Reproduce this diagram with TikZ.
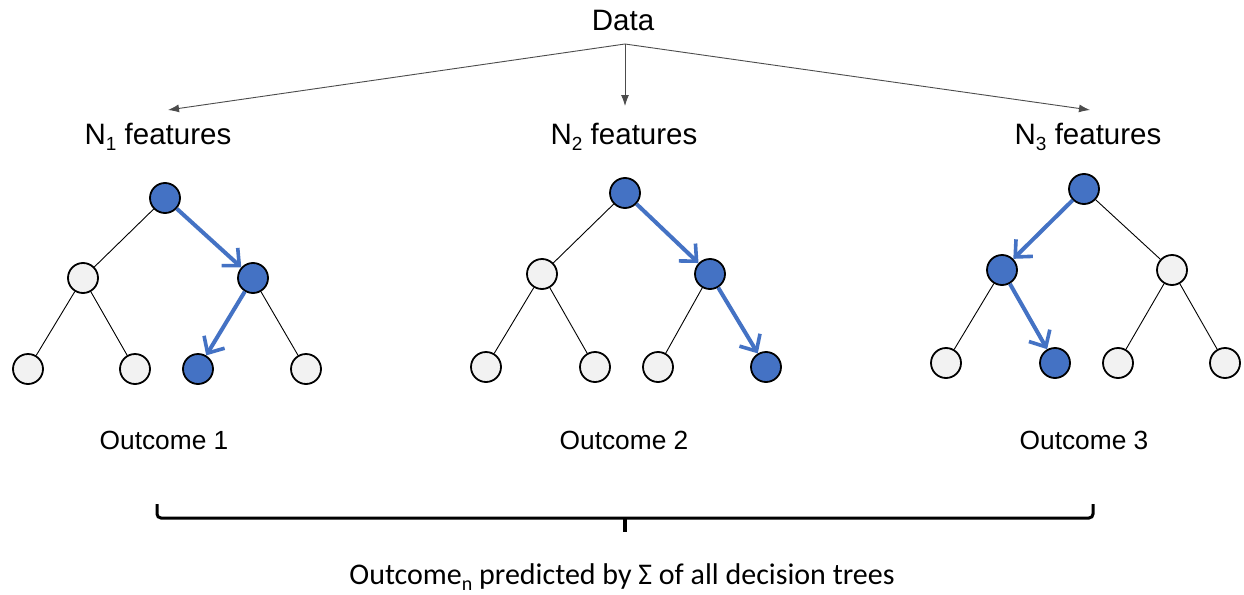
\documentclass[tikz,border=0pt]{standalone}
\usepackage{fontspec}
\setmainfont{Liberation Sans}
\newfontfamily\capfont{Carlito}
\usetikzlibrary{arrows.meta}
\definecolor{nodeblue}{HTML}{4472C4}
\definecolor{nodegray}{HTML}{F2F2F2}
\newcommand{\lowidx}[2]{\raisebox{-0.2em}{\fontsize{#1}{#1}\selectfont #2}}
\tikzset{
  x=1pt, y=-1pt,
  leaf/.style={circle, draw=black, line width=1.8, fill=nodegray, minimum size=30, inner sep=0},
  hot/.style={leaf, fill=nodeblue},
  edge/.style={draw=black, line width=0.9},
  route/.style={draw=nodeblue, line width=4, -{Straight Barb[length=13,width=24,line width=3.6]}},
  split/.style={draw=black!70, line width=0.9, -{Latex[length=11,width=8]}},
  big/.style={font=\fontsize{29.5}{32}\selectfont, inner sep=0},
  mid/.style={font=\fontsize{26.3}{30}\selectfont, inner sep=0},
}
\begin{document}
\begin{tikzpicture}
\useasboundingbox (0,0) rectangle (1244,594);
\fill[white] (0,0) rectangle (1244,594);

% data and feature subsets
\node[big] (data) at (623,20) {Data};
\coordinate (fork) at (625,44);
\node[big] (f1) at (158,137) {N\lowidx{19}{1} features};
\node[big] (f2) at (624,137) {N\lowidx{19}{2} features};
\node[big] (f3) at (1088,137) {N\lowidx{19}{3} features};
\coordinate (e1) at (168,110);
\coordinate (e2) at (625,106);
\coordinate (e3) at (1090,110);
\draw[split] (fork) -- (e1);
\draw[split] (fork) -- (e2);
\draw[split] (fork) -- (e3);

% tree 1
\node[hot]  (a0) at (165,198) {};
\node[leaf] (a1) at (83,278) {};
\node[hot]  (a2) at (253,278) {};
\node[leaf] (a3) at (28,369) {};
\node[leaf] (a4) at (135,369) {};
\node[hot]  (a5) at (198,369) {};
\node[leaf] (a6) at (306,369) {};
\draw[edge] (a0) -- (a1);
\draw[edge] (a1) -- (a3);
\draw[edge] (a1) -- (a4);
\draw[edge] (a2) -- (a6);
\draw[route] (a0) -- (a2);
\draw[route] (a2) -- (a5);

% tree 2
\node[hot]  (b0) at (625,193) {};
\node[leaf] (b1) at (542,274) {};
\node[hot]  (b2) at (710,274) {};
\node[leaf] (b3) at (486,367) {};
\node[leaf] (b4) at (595,367) {};
\node[leaf] (b5) at (658,367) {};
\node[hot]  (b6) at (766,367) {};
\draw[edge] (b0) -- (b1);
\draw[edge] (b1) -- (b3);
\draw[edge] (b1) -- (b4);
\draw[edge] (b2) -- (b5);
\draw[route] (b0) -- (b2);
\draw[route] (b2) -- (b6);

% tree 3
\node[hot]  (c0) at (1084,189) {};
\node[hot]  (c1) at (1002,270) {};
\node[leaf] (c2) at (1172,270) {};
\node[leaf] (c3) at (946,363) {};
\node[hot]  (c4) at (1055,363) {};
\node[leaf] (c5) at (1118,363) {};
\node[leaf] (c6) at (1225,363) {};
\draw[edge] (c0) -- (c2);
\draw[edge] (c1) -- (c3);
\draw[edge] (c2) -- (c5);
\draw[edge] (c2) -- (c6);
\draw[route] (c0) -- (c1);
\draw[route] (c1) -- (c4);

% outcomes
\node[mid] (o1) at (164,440) {Outcome 1};
\node[mid] (o2) at (624,440) {Outcome 2};
\node[mid] (o3) at (1084,440) {Outcome 3};

% brace collecting the outcomes
\coordinate (bl) at (157,504);
\coordinate (br) at (1093,504);
\coordinate (bt) at (625,532);
\draw[line width=3, rounded corners=4] (bl) -- (157,518) -- (1093,518) -- (br);
\draw[line width=3.5] (625,518) -- (bt);

\node[font=\capfont\fontsize{30}{32}\selectfont, inner sep=0, anchor=base] (sum) at (622,584)
  {Outcome\lowidx{20}{n} predicted by Σ of all decision trees};
\end{tikzpicture}
\end{document}
